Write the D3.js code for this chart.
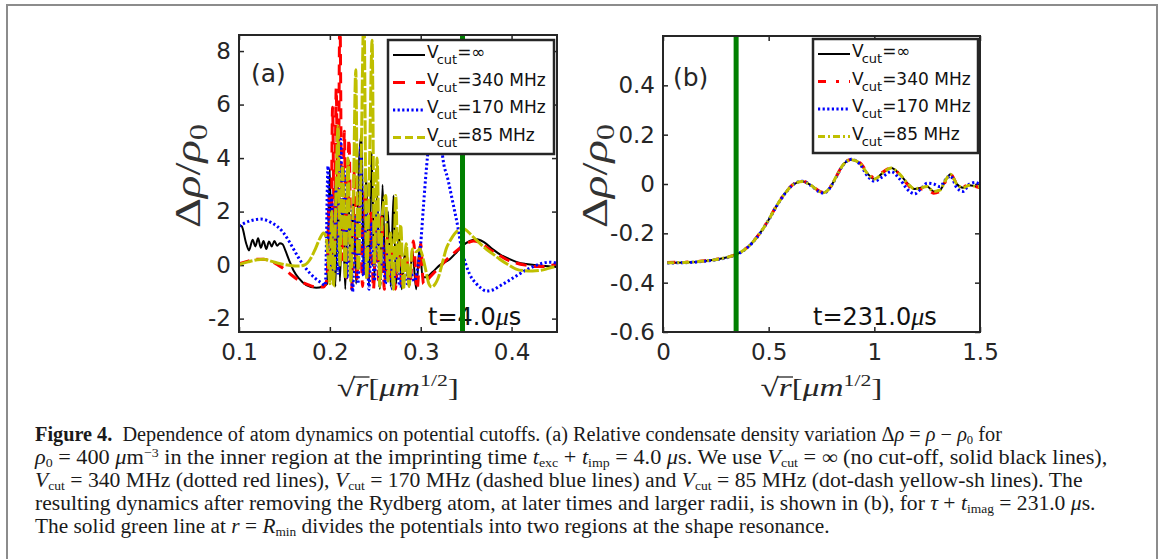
<!DOCTYPE html>
<html>
<head>
<meta charset="utf-8">
<script src="https://cdn.jsdelivr.net/npm/d3@7"></script>
<style>
body { margin: 0; background: #fff; }
svg { display: block; }
</style>
</head>
<body>
<div id="chart"></div>
<script>
// ---- data ----
var legendLabels = ["=\u221e", "=340 MHz", "=170 MHz", "=85 MHz"];
var xTicksA = [0.1, 0.2, 0.3, 0.4];
var yTicksA = [-2, 0, 2, 4, 6, 8];
var xTicksB = [0, 0.5, 1, 1.5];
var yTicksB = [-0.6, -0.4, -0.2, 0, 0.2, 0.4];
var rMin = 0.346;

// panel (a), t = 4.0 us
var blackA = [[0.100,1.50],[0.103,1.45],[0.108,0.80],[0.111,0.55],[0.115,0.95],[0.118,0.70],[0.121,1.00],[0.124,0.65],
  [0.127,0.90],[0.130,0.60],[0.133,0.88],[0.136,0.70],[0.139,0.90],[0.142,0.72],[0.145,0.82],[0.148,0.78],[0.151,0.55],
  [0.155,0.20],[0.160,-0.20],[0.166,-0.50],[0.174,-0.75],[0.185,-0.85],[0.192,-0.80],[0.197,-0.70],
  [0.200,3.6],[0.202,-0.5],[0.204,2.0],[0.206,-0.8],[0.209,3.0],[0.211,-0.6],[0.214,2.2],[0.217,-0.9],[0.220,3.2],
  [0.223,-0.5],[0.226,2.5],[0.229,-0.7],[0.232,3.8],[0.235,4.9],[0.237,-0.3],[0.240,3.4],[0.243,-0.8],[0.246,4.2],
  [0.249,-0.5],[0.252,2.8],[0.255,-0.9],[0.258,3.0],[0.261,-0.6],[0.264,2.0],[0.267,-0.8],[0.270,2.6],[0.273,-0.7],
  [0.276,1.2],[0.279,-0.9],[0.283,0.6],[0.287,-0.8],[0.291,0.5],[0.295,-0.9],[0.299,0.75],[0.302,-0.45],
  [0.306,-0.45],[0.313,-0.26],[0.321,0.0],[0.332,0.22],[0.340,0.50],[0.346,0.72],[0.354,0.90],[0.362,0.97],
  [0.370,0.85],[0.379,0.60],[0.388,0.38],[0.398,0.22],[0.407,0.10],[0.416,0.04],[0.425,0.0],[0.434,-0.02],[0.450,-0.07]];

var redA = [[0.100,0.05],[0.110,0.15],[0.120,0.22],[0.127,0.22],[0.135,0.15],[0.142,0.02],[0.150,-0.15],[0.157,-0.35],
  [0.165,-0.55],[0.175,-0.72],[0.185,-0.82],[0.193,-0.82],[0.197,-0.5],
  [0.199,2.5],[0.201,-0.3],[0.203,5.9],[0.205,0.5],[0.207,6.6],[0.209,1.0],[0.211,9.5],[0.2135,0.2],[0.216,5.0],
  [0.218,-0.6],[0.221,4.7],[0.224,-0.9],[0.227,3.5],[0.230,-0.5],[0.233,2.3],[0.236,-0.8],[0.239,2.8],[0.242,-0.6],
  [0.245,2.0],[0.248,-0.9],[0.251,1.5],[0.254,-0.7],[0.257,1.8],[0.260,-0.9],[0.263,1.0],[0.266,-0.6],[0.269,0.8],
  [0.272,-0.9],[0.276,0.6],[0.280,-0.9],[0.284,0.4],[0.288,-0.8],[0.292,0.9],[0.296,-0.9],[0.300,0.8],[0.303,-0.7],
  [0.310,-0.45],[0.320,-0.10],[0.330,0.25],[0.340,0.55],[0.348,0.75],[0.358,0.90],[0.365,0.85],[0.375,0.60],
  [0.385,0.40],[0.395,0.20],[0.405,0.08],[0.415,0.0],[0.425,-0.05],[0.435,-0.05],[0.445,0.0],[0.450,0.04]];

var blueA = [[0.100,1.45],[0.105,1.55],[0.112,1.65],[0.118,1.70],[0.124,1.72],[0.130,1.68],[0.136,1.58],[0.142,1.45],
  [0.148,1.25],[0.154,0.95],[0.160,0.60],[0.166,0.25],[0.172,-0.05],[0.178,-0.30],[0.184,-0.50],[0.190,-0.65],[0.195,-0.75],
  [0.198,3.7],[0.200,0.0],[0.202,2.6],[0.204,-0.6],[0.207,3.0],[0.209,-0.3],[0.212,4.7],[0.214,1.0],[0.216,3.5],
  [0.219,-0.5],[0.222,2.2],[0.225,-1.0],[0.228,1.8],[0.231,-0.7],[0.234,4.5],[0.237,-0.4],[0.240,2.0],[0.243,-0.9],
  [0.246,1.6],[0.249,-0.6],[0.252,2.2],[0.255,-0.8],[0.258,1.0],[0.261,-0.7],[0.265,0.7],[0.269,-0.9],[0.273,0.3],
  [0.277,-0.8],[0.281,0.2],[0.285,-0.7],[0.289,-0.3],[0.293,-0.6],
  [0.297,-0.04],[0.300,0.8],[0.303,2.2],[0.306,3.5],[0.309,4.6],[0.313,5.8],[0.317,6.2],[0.321,5.4],[0.324,4.1],
  [0.330,3.2],[0.335,2.4],[0.341,1.4],[0.345,0.6],[0.350,0.0],[0.354,-0.35],[0.360,-0.65],[0.366,-0.85],[0.372,-0.97],
  [0.380,-0.92],[0.387,-0.78],[0.396,-0.60],[0.405,-0.41],[0.414,-0.22],[0.423,-0.07],[0.432,0.05],[0.442,0.11],[0.450,0.07]];

var yellowA = [[0.100,0.02],[0.110,0.12],[0.120,0.20],[0.127,0.22],[0.135,0.15],[0.142,0.08],[0.150,0.02],[0.158,-0.02],
  [0.166,-0.03],[0.172,0.0],[0.178,0.20],[0.184,0.60],[0.189,1.00],[0.193,1.20],[0.196,1.00],[0.198,0.30],[0.200,-0.7],
  [0.202,2.0],[0.204,-0.8],[0.207,3.0],[0.209,5.2],[0.211,0.0],[0.214,3.7],[0.217,-0.5],[0.220,4.0],[0.223,-0.6],
  [0.226,2.8],[0.2285,7.3],[0.231,-0.2],[0.234,3.0],[0.2375,9.5],[0.2405,-0.5],[0.2435,3.5],[0.2465,8.4],[0.249,0.0],
  [0.252,4.0],[0.255,-0.8],[0.258,2.0],[0.2615,2.6],[0.264,-0.6],[0.267,1.2],[0.270,-0.9],[0.2725,2.6],[0.275,-0.3],
  [0.278,1.5],[0.281,-0.9],[0.284,0.8],[0.287,-0.8],[0.291,0.6],[0.295,0.5],[0.299,0.6],[0.303,0.2],[0.306,-0.26],
  [0.309,-0.70],[0.312,-0.82],[0.316,-0.70],[0.319,-0.50],[0.324,0.10],[0.328,0.60],[0.333,0.95],[0.337,1.16],
  [0.342,1.33],[0.346,1.38],[0.351,1.28],[0.357,1.08],[0.364,0.85],[0.372,0.60],[0.380,0.40],[0.387,0.22],[0.396,0.02],
  [0.405,-0.15],[0.414,-0.21],[0.423,-0.22],[0.431,-0.20],[0.438,-0.15],[0.445,-0.08],[0.450,-0.04]];

// panel (b), t = 231.0 us
var rB = [0.02,0.10,0.20,0.26,0.30,0.34,0.38,0.42,0.46,0.50,0.54,0.58,0.62,0.66,0.70,0.74,0.76,0.79,0.82,0.85,0.89,
  0.93,0.97,1.00,1.04,1.08,1.12,1.16,1.19,1.22,1.25,1.28,1.31,1.34,1.36,1.39,1.42,1.45,1.48,1.50];
var blackB = [-0.319,-0.318,-0.312,-0.305,-0.298,-0.288,-0.270,-0.240,-0.198,-0.145,-0.085,-0.035,0.000,0.010,-0.005,
  -0.030,-0.035,-0.015,0.030,0.075,0.098,0.085,0.040,0.020,0.045,0.065,0.040,0.000,-0.020,-0.015,-0.010,-0.030,-0.025,
  0.020,0.040,0.000,-0.015,-0.005,-0.010,-0.012];
var redB = [-0.318,-0.317,-0.311,-0.304,-0.297,-0.287,-0.269,-0.239,-0.197,-0.144,-0.084,-0.034,0.001,0.011,-0.004,
  -0.029,-0.034,-0.014,0.031,0.076,0.099,0.087,0.045,0.025,0.048,0.066,0.038,-0.005,-0.025,-0.020,-0.020,-0.037,-0.030,
  0.015,0.040,0.002,-0.012,0.000,-0.010,-0.015];
var blueB = [-0.320,-0.319,-0.313,-0.306,-0.299,-0.289,-0.271,-0.241,-0.199,-0.146,-0.086,-0.036,0.000,0.011,-0.006,
  -0.032,-0.037,-0.016,0.028,0.074,0.100,0.082,0.030,0.012,0.030,0.050,0.020,-0.025,-0.040,-0.020,0.003,0.000,-0.010,
  0.020,0.032,-0.015,-0.030,0.000,0.006,-0.005];
var yellowB = [-0.319,-0.318,-0.312,-0.305,-0.298,-0.288,-0.270,-0.240,-0.198,-0.145,-0.085,-0.035,0.000,0.010,-0.005,
  -0.030,-0.035,-0.015,0.030,0.075,0.098,0.085,0.040,0.020,0.045,0.065,0.040,0.000,-0.020,-0.015,-0.010,-0.030,-0.025,
  0.020,0.040,0.000,-0.015,-0.005,-0.010,-0.012];

function zip(xs, ys) { return xs.map(function(v, i) { return [v, ys[i]]; }); }

// ---- drawing ----
var width = 1163, height = 559;
var ink = "#262626";
var svg = d3.select("#chart").append("svg")
    .attr("width", width)
    .attr("height", height);

// grey page frame
svg.append("path")
    .attr("d", "M7,559V5H1157V559")
    .attr("fill", "none")
    .attr("stroke", "#8c8c8c")
    .attr("stroke-width", 2);

var styles = [
    {color: "#000000", w: 2,   dashA: null,        dashB: null},
    {color: "#ff0000", w: 3,   dashA: "11,7",      dashB: "8,10,3,10"},
    {color: "#0000ff", w: 3,   dashA: "2.2,2.4",   dashB: "2.2,2.4"},
    {color: "#bfbf00", w: 3,   dashA: "14,2",      dashB: "7,3,2,3"}
];

function panel(o) {
    var x = d3.scaleLinear().domain(o.xd).range([o.left, o.right]);
    var y = d3.scaleLinear().domain(o.yd).range([o.bottom, o.top]);
    var fmt = function(d) { return String(d); };

    var clipId = "clip-" + o.name;
    svg.append("clipPath").attr("id", clipId)
        .append("rect")
        .attr("x", o.left).attr("y", o.top)
        .attr("width", o.right - o.left).attr("height", o.bottom - o.top);

    var axes = [
        [d3.axisBottom(x).tickValues(o.xt).tickFormat(fmt).tickPadding(12), "translate(0," + o.bottom + ")"],
        [d3.axisTop(x).tickValues(o.xt).tickFormat(""), "translate(0," + o.top + ")"],
        [d3.axisLeft(y).tickValues(o.yt).tickFormat(fmt).tickPadding(8), "translate(" + o.left + ",0)"],
        [d3.axisRight(y).tickValues(o.yt).tickFormat(""), "translate(" + o.right + ",0)"]
    ];
    axes.forEach(function(a) {
        var g = svg.append("g").attr("transform", a[1])
            .call(a[0].tickSizeInner(-5).tickSizeOuter(0));
        g.select(".domain").remove();
        g.selectAll(".tick line").attr("stroke", ink).attr("stroke-width", 1.5);
        g.selectAll(".tick text")
            .attr("font-family", "DejaVu Sans")
            .attr("font-size", 23)
            .attr("fill", ink);
    });

    var line = d3.line()
        .x(function(d) { return x(d[0]); })
        .y(function(d) { return y(d[1]); })
        .curve(d3.curveMonotoneX);

    var plot = svg.append("g").attr("clip-path", "url(#" + clipId + ")");
    o.series.forEach(function(s, i) {
        var st = styles[i];
        plot.append("path")
            .datum(s)
            .attr("d", line)
            .attr("fill", "none")
            .attr("stroke", st.color)
            .attr("stroke-width", st.w)
            .attr("stroke-linejoin", "round")
            .attr("stroke-dasharray", o.name === "a" ? st.dashA : st.dashB);
    });

    // panel letter and time stamp
    svg.append("text")
        .attr("x", o.left + o.letterDx).attr("y", o.letterY)
        .attr("font-family", "DejaVu Sans").attr("font-size", 25).attr("fill", ink)
        .text(o.letter);
    var tt = svg.append("text")
        .attr("x", o.timeX).attr("y", 325)
        .attr("font-family", "DejaVu Sans").attr("font-size", 24).attr("fill", "#111");
    tt.append("tspan").text(o.time);
    tt.append("tspan").attr("font-family", "Liberation Serif").attr("font-style", "italic").attr("font-size", 26).text("\u03bc");
    tt.append("tspan").text("s");

    // green line at R_min
    svg.append("line")
        .attr("x1", x(rMin)).attr("x2", x(rMin))
        .attr("y1", o.top).attr("y2", o.bottom)
        .attr("stroke", "#008000")
        .attr("stroke-width", 5);

    // box
    svg.append("rect")
        .attr("x", o.left).attr("y", o.top)
        .attr("width", o.right - o.left).attr("height", o.bottom - o.top)
        .attr("fill", "none").attr("stroke", ink).attr("stroke-width", 2);

    // legend
    var lg = svg.append("g").attr("transform", "translate(" + o.legX + "," + o.legY + ")");
    lg.append("rect")
        .attr("width", o.legW).attr("height", 114)
        .attr("fill", "#fff").attr("stroke", ink).attr("stroke-width", 2.5);
    legendLabels.forEach(function(lab, i) {
        var st = styles[i];
        var by = 18 + i * 27.5;
        lg.append("line")
            .attr("x1", 5).attr("x2", 37).attr("y1", by - 3).attr("y2", by - 3)
            .attr("stroke", st.color).attr("stroke-width", st.w)
            .attr("stroke-dasharray", o.name === "a" ? (i === 3 ? "8,4" : (i === 1 ? "12,11" : st.dashA)) : st.dashB);
        var t = lg.append("text")
            .attr("x", 39).attr("y", by)
            .attr("font-family", "DejaVu Sans").attr("font-size", 17).attr("fill", "#111");
        t.append("tspan").text("V");
        t.append("tspan").attr("font-size", 13).attr("dy", 6).attr("dx", -2).text("cut");
        t.append("tspan").attr("dy", -6).text(lab);
    });

    // axis labels
    xLabel((o.left + o.right) / 2, 396);
    yLabel(o.yLabX, 176);
}

function xLabel(cx, by) {
    var fs = 26;
    var t = svg.append("text")
        .attr("font-family", "Liberation Serif").attr("font-size", fs).attr("fill", ink);
    t.append("tspan").text("\u221a");
    t.append("tspan").attr("font-style", "italic").text("r");
    t.append("tspan").text("[");
    t.append("tspan").attr("font-style", "italic").text("\u03bcm");
    t.append("tspan").attr("font-size", 17).attr("dy", -10).text("1/2");
    t.append("tspan").attr("dy", 10).text("]");
    var n = t.node();
    var w = n.getComputedTextLength();
    var s = 122 / w;
    var x0 = cx - 61;
    t.attr("transform", "translate(" + x0 + "," + by + ") scale(" + s + ",1)");
    var e0 = n.getExtentOfChar(0), e1 = n.getExtentOfChar(1);
    svg.append("line")
        .attr("x1", x0 + (e0.x + e0.width * 0.9) * s)
        .attr("x2", x0 + (e1.x + e1.width + 1) * s)
        .attr("y1", by - 19).attr("y2", by - 19)
        .attr("stroke", ink).attr("stroke-width", 1.3);
}

function yLabel(bx, cy) {
    var t = svg.append("text")
        .attr("font-family", "Liberation Serif").attr("font-size", 36).attr("fill", "#333")
        .attr("text-anchor", "middle");
    t.append("tspan").text("\u0394");
    t.append("tspan").attr("font-style", "italic").text("\u03c1");
    t.append("tspan").text("/");
    t.append("tspan").attr("font-style", "italic").text("\u03c1");
    t.append("tspan").attr("font-size", 25).attr("dy", 7).text("0");
    var w = t.node().getComputedTextLength();
    var s = 104 / w;
    t.attr("transform", "translate(" + bx + "," + cy + ") rotate(-90) scale(" + s + ",1)");
}

panel({
    name: "a", xd: [0.1, 0.45], yd: [-2.5, 8.6],
    left: 239, right: 557, top: 35, bottom: 332,
    xt: xTicksA, yt: yTicksA,
    series: [blackA, redA, blueA, yellowA],
    letter: "(a)", letterDx: 12, letterY: 82,
    time: "t=4.0", timeX: 428,
    legX: 388, legY: 40, legW: 166,
    yLabX: 200
});

panel({
    name: "b", xd: [0, 1.5], yd: [-0.6, 0.6],
    left: 663, right: 980, top: 36, bottom: 332,
    xt: xTicksB, yt: yTicksB,
    series: [zip(rB, blackB), zip(rB, redB), zip(rB, blueB), zip(rB, yellowB)],
    letter: "(b)", letterDx: 10, letterY: 86,
    time: "t=231.0", timeX: 813,
    legX: 813, legY: 39, legW: 165,
    yLabX: 607
});

// ---- caption ----
var caption = [
    [["Figure 4.", "b"], ["  Dependence of atom dynamics on potential cutoffs. (a) Relative condensate density variation \u0394"],
     ["\u03c1", "i"], [" = "], ["\u03c1", "i"], [" \u2212 "], ["\u03c1", "i"], ["0", "sub"], [" for"]],
    [["\u03c1", "i"], ["0", "sub"], [" = 400 "], ["\u03bc", "i"], ["m"], ["\u22123", "sup"],
     [" in the inner region at the imprinting time "], ["t", "i"], ["exc", "sub"], [" + "], ["t", "i"], ["imp", "sub"],
     [" = 4.0 "], ["\u03bc", "i"], ["s. We use "], ["V", "i"], ["cut", "sub"], [" = \u221e (no cut-off, solid black lines),"]],
    [["V", "i"], ["cut", "sub"], [" = 340 MHz (dotted red lines), "], ["V", "i"], ["cut", "sub"],
     [" = 170 MHz (dashed blue lines) and "], ["V", "i"], ["cut", "sub"], [" = 85 MHz (dot-dash yellow-sh lines). The"]],
    [["resulting dynamics after removing the Rydberg atom, at later times and larger radii, is shown in (b), for "],
     ["\u03c4", "i"], [" + "], ["t", "i"], ["imag", "sub"], [" = 231.0 "], ["\u03bc", "i"], ["s."]],
    [["The solid green line at "], ["r", "i"], [" = "], ["R", "i"], ["min", "sub"],
     [" divides the potentials into two regions at the shape resonance."]]
];
var captionWidths = [968, 1073, 1048, 1061, 795];

caption.forEach(function(segs, li) {
    var by = 441 + li * 23;
    var t = svg.append("text")
        .attr("font-family", "Liberation Serif").attr("font-size", 20).attr("fill", "#1a1a1a")
        .style("white-space", "pre");
    var shift = 0;
    segs.forEach(function(sg) {
        var k = sg[1] || "";
        var sp = t.append("tspan").text(sg[0]);
        var want = k === "sub" ? 2.5 : (k === "sup" ? -7 : 0);
        if (want !== shift) { sp.attr("dy", want - shift); shift = want; }
        if (k === "i") sp.attr("font-style", "italic");
        if (k === "b") sp.attr("font-weight", "bold");
        if (k === "sub" || k === "sup") sp.attr("font-size", 12.5);
    });
    var w = t.node().getComputedTextLength();
    t.attr("transform", "translate(35," + by + ") scale(" + (captionWidths[li] / w) + ",1)");
});
</script>
</body>
</html>
